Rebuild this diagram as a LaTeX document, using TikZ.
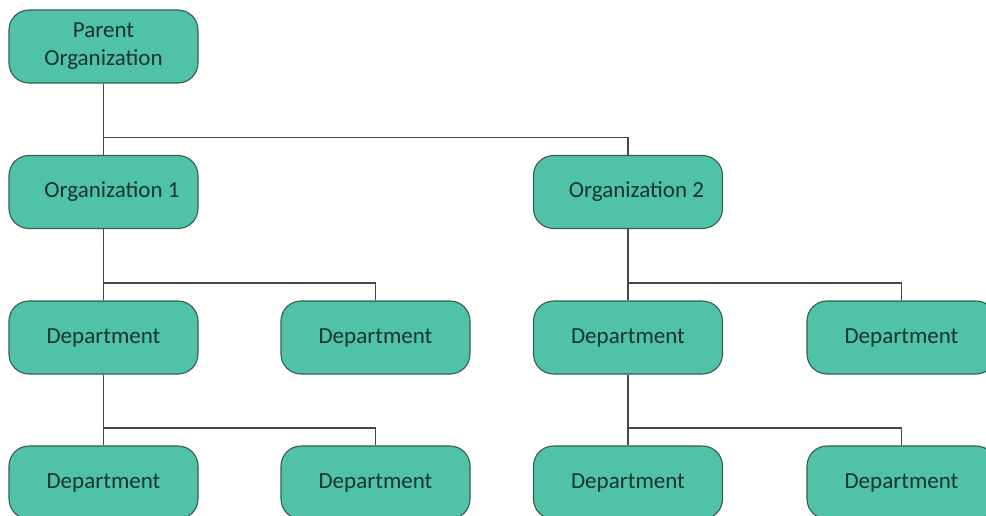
\documentclass[tikz,border=0pt]{standalone}
\usepackage{fontspec}
\setmainfont{Carlito}
\definecolor{boxfill}{RGB}{79,194,167}
\definecolor{boxline}{RGB}{52,92,84}
\definecolor{boxtext}{RGB}{24,52,46}
\definecolor{conn}{RGB}{70,70,70}
\tikzset{
  orgbox/.style={draw=boxline, fill=boxfill, line width=1.1pt, rounded corners=20pt,
    minimum width=189pt, minimum height=73pt, inner sep=0pt, align=center,
    text=boxtext, font=\fontsize{23}{28}\selectfont},
  link/.style={draw=conn, line width=1.4pt}
}
\begin{document}
\begin{tikzpicture}[x=1pt,y=-1pt]
\useasboundingbox (0,0) rectangle (986,515);
\clip (0,0) rectangle (986,515);
\fill[white] (0,0) rectangle (986,515);
% nodes
\node[orgbox] (P) at (103.5,46.5) {Parent\\Organization};
\node[orgbox] (O1) at (103.5,192) {\hspace*{17pt}Organization 1};
\node[orgbox] (O2) at (628,192) {\hspace*{17pt}Organization 2};
\node[orgbox] (D11) at (103.5,337.5) {Department};
\node[orgbox] (D12) at (375.5,337.5) {Department};
\node[orgbox] (D13) at (628,337.5) {Department};
\node[orgbox] (D14) at (901.5,337.5) {Department};
\node[orgbox] (D21) at (103.5,482.5) {Department};
\node[orgbox] (D22) at (375.5,482.5) {Department};
\node[orgbox] (D23) at (628,482.5) {Department};
\node[orgbox] (D24) at (901.5,482.5) {Department};
% junctions
\coordinate (j0) at (103.5,137.5);
\coordinate (j1) at (103.5,283);
\coordinate (j2) at (628,283);
\coordinate (j3) at (103.5,428);
\coordinate (j4) at (628,428);
% connectors
\draw[link] (P.south) -- (O1.north);
\draw[link] (j0) -| (O2.north);
\draw[link] (O1.south) -- (D11.north);
\draw[link] (j1) -| (D12.north);
\draw[link] (O2.south) -- (D13.north);
\draw[link] (j2) -| (D14.north);
\draw[link] (D11.south) -- (D21.north);
\draw[link] (j3) -| (D22.north);
\draw[link] (D13.south) -- (D23.north);
\draw[link] (j4) -| (D24.north);
\end{tikzpicture}
\end{document}
